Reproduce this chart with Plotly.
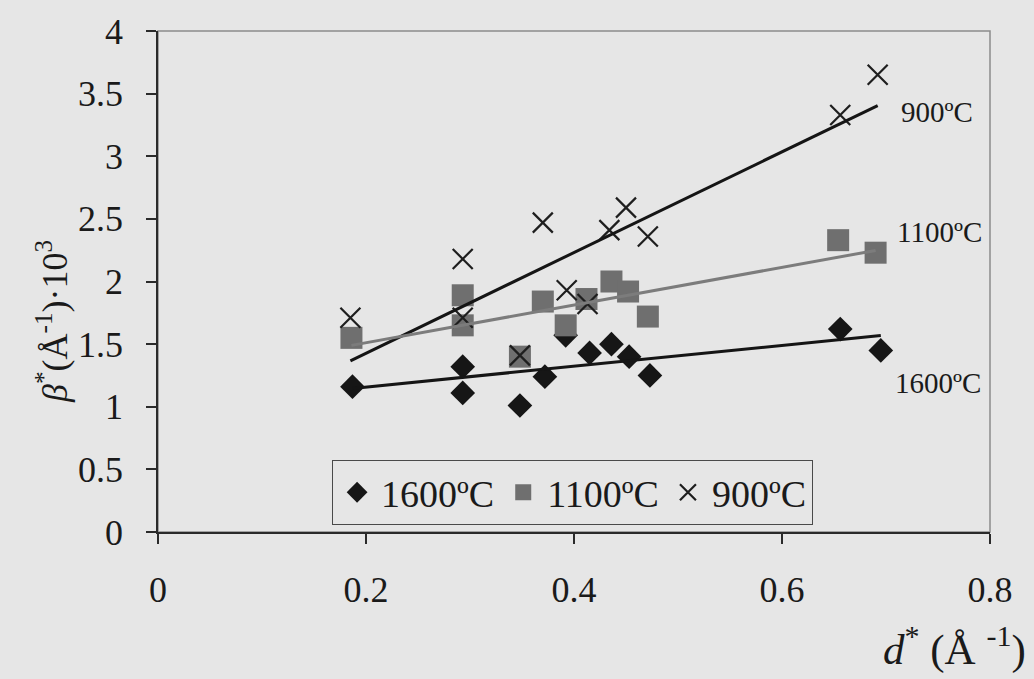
import numpy as np
import plotly.graph_objects as go

# ---- data ----
x1600 = [0.187, 0.293, 0.293, 0.348, 0.372, 0.392, 0.415, 0.436, 0.453, 0.473, 0.656, 0.695]
y1600 = [1.16, 1.32, 1.11, 1.01, 1.24, 1.57, 1.43, 1.50, 1.40, 1.25, 1.62, 1.45]

x1100 = [0.186, 0.293, 0.293, 0.348, 0.370, 0.392, 0.412, 0.436, 0.452, 0.471, 0.654, 0.690]
y1100 = [1.55, 1.89, 1.65, 1.40, 1.84, 1.65, 1.86, 2.00, 1.92, 1.72, 2.33, 2.23]

x900 = [0.185, 0.293, 0.293, 0.348, 0.370, 0.393, 0.413, 0.434, 0.450, 0.471, 0.656, 0.692]
y900 = [1.71, 2.18, 1.71, 1.41, 2.47, 1.93, 1.82, 2.41, 2.59, 2.36, 3.33, 3.65]

series_names = ["1600ºC", "1100ºC", "900ºC"]
x_ticks = [0, 0.2, 0.4, 0.6, 0.8]
y_ticks = [0, 0.5, 1, 1.5, 2, 2.5, 3, 3.5, 4]

BG = "#e6e6e6"
FONT = "Liberation Serif"

fig = go.Figure()

fig.add_trace(go.Scatter(x=x1600, y=y1600, mode="markers", name=series_names[0],
                         marker=dict(symbol="diamond", size=19, color="#161616")))
fig.add_trace(go.Scatter(x=x1100, y=y1100, mode="markers", name=series_names[1],
                         marker=dict(symbol="square", size=22, color="#6f6f6f")))
fig.add_trace(go.Scatter(x=x900, y=y900, mode="markers", name=series_names[2],
                         marker=dict(symbol="x-thin", size=20, color="#1e1e1e",
                                     line=dict(width=2.2, color="#1e1e1e"))))

# linear trend lines fitted to each series
for xs, ys, col in [(x900, y900, "#151515"), (x1100, y1100, "#7c7c7c"), (x1600, y1600, "#151515")]:
    k, b = np.polyfit(xs, ys, 1)
    xl = np.array([min(xs), max(xs)])
    fig.add_trace(go.Scatter(x=xl, y=k * xl + b, mode="lines", showlegend=False,
                             hoverinfo="skip", line=dict(color=col, width=3)))

# labels next to trend lines
for txt, xa, ya in [("900ºC", 0.749, 3.35), ("1100ºC", 0.751, 2.395), ("1600ºC", 0.750, 1.19)]:
    fig.add_annotation(x=xa, y=ya, xref="x", yref="y", text=txt, showarrow=False,
                       font=dict(family=FONT, size=29, color="#1a1a1a"),
                       xanchor="center", yanchor="middle")

# axis titles
fig.add_annotation(xref="paper", yref="paper", x=-0.127, y=0.42, textangle=-90,
                   text="<i>β</i><sup>*</sup>(Å<sup>-1</sup>)·10<sup>3</sup>", showarrow=False,
                   font=dict(family=FONT, size=36, color="#1a1a1a"),
                   xanchor="center", yanchor="middle")
fig.add_annotation(xref="paper", yref="paper", x=0.957, y=-0.228,
                   text="<i>d</i><sup>*</sup> (Å <sup>-1</sup>)", showarrow=False,
                   font=dict(family=FONT, size=43, color="#1a1a1a"),
                   xanchor="center", yanchor="middle")

# plot area frame (light grey top/right border)
fig.add_shape(type="rect", xref="paper", yref="paper", x0=0, y0=0, x1=1, y1=1,
              line=dict(color="#8c8c8c", width=1.5), layer="below")

fig.update_layout(
    width=1034, height=679,
    margin=dict(l=158, r=44, t=26, b=147),
    paper_bgcolor=BG, plot_bgcolor=BG,
    font=dict(family=FONT, size=36, color="#1a1a1a"),
    showlegend=True,
    legend=dict(orientation="h", x=0.209, y=0.144, xanchor="left", yanchor="top",
                bgcolor=BG, bordercolor="#4a4a4a", borderwidth=1.2,
                font=dict(family=FONT, size=38, color="#1a1a1a"),
                itemwidth=38, tracegroupgap=0),
)
fig.update_xaxes(range=[0, 0.8], tickvals=x_ticks, ticktext=[str(v) for v in x_ticks],
                 showgrid=False, zeroline=False, showline=True, linecolor="#2a2a2a", linewidth=1.5,
                 ticks="outside", ticklen=10, tickwidth=1.5, tickcolor="#2a2a2a",
                 ticklabelstandoff=15, tickfont=dict(family=FONT, size=36, color="#1a1a1a"))
fig.update_yaxes(range=[0, 4], tickvals=y_ticks, ticktext=[("%g" % v) for v in y_ticks],
                 showgrid=False, zeroline=False, showline=True, linecolor="#2a2a2a", linewidth=1.5,
                 ticks="outside", ticklen=10, tickwidth=1.5, tickcolor="#2a2a2a",
                 ticklabelstandoff=16, tickfont=dict(family=FONT, size=36, color="#1a1a1a"))

fig.write_html("out.html")
